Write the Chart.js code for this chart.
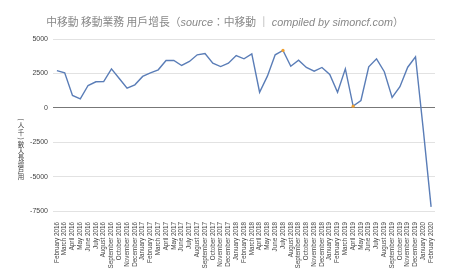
<!DOCTYPE html>
<html>
<head>
<meta charset="utf-8">
<script src="https://cdn.jsdelivr.net/npm/chart.js@4"></script>
<style>
  body { margin: 0; background: #fff; }
  #wrap { position: relative; width: 450px; height: 278px; }
  #title {
    position: absolute; top: 13px; left: 0; width: 450px; text-align: center;
    font-family: "Noto Sans CJK TC", "Liberation Sans", sans-serif; font-size: 10.8px; color: #888;
    white-space: nowrap;
  }
  #title i { font-family: "Liberation Sans", Arial, sans-serif; }
</style>
</head>
<body>
<div id="wrap">
  <canvas id="growth" width="450" height="278"></canvas>
  <div id="title">中移動 移動業務 用戶增長（<i>source</i>：中移動 ｜ <i>compiled by simoncf.com</i>）</div>
</div>
<script>
// months Feb 2016 .. Feb 2020
var months = [
  "February 2016", "March 2016", "April 2016", "May 2016", "June 2016", "July 2016", "August 2016",
  "September 2016", "October 2016", "November 2016", "December 2016",
  "January 2017", "February 2017", "March 2017", "April 2017", "May 2017", "June 2017", "July 2017",
  "August 2017", "September 2017", "October 2017", "November 2017", "December 2017",
  "January 2018", "February 2018", "March 2018", "April 2018", "May 2018", "June 2018", "July 2018",
  "August 2018", "September 2018", "October 2018", "November 2018", "December 2018",
  "January 2019", "February 2019", "March 2019", "April 2019", "May 2019", "June 2019", "July 2019",
  "August 2019", "September 2019", "October 2019", "November 2019", "December 2019",
  "January 2020", "February 2020"
];

// 用戶增長 (千人)
var userGrowth = [
  2700, 2550, 900, 650, 1620, 1890, 1910, 2830, 2130, 1420, 1670,
  2280, 2540, 2760, 3440, 3440, 3075, 3370, 3850, 3950, 3240, 3000, 3240,
  3800, 3560, 3920, 1130, 2300, 3850, 4170, 3020, 3460, 2930, 2660, 2930,
  2420, 1130, 2830, 120, 530, 2980, 3560, 2620, 750, 1530, 2950, 3710,
  -1600, -7200
];

var yTicks = [5000, 2500, 0, -2500, -5000, -7500];
var yAxisTitle = ["用", "戶", "增", "長", "人", "數", "(", "千", "人", ")"];

// the two highlighted points (orange)
var marked = ["July 2018", "April 2019"];

var tickFont = { family: "Liberation Sans", size: 7 };

// stacked upright y-axis title, read from bottom to top
var yTitlePlugin = {
    id: 'yTitle',
    afterDraw: function (chart) {
        var c = chart.ctx;
        c.save();
        c.fillStyle = '#444';
        c.font = '6.5px "Noto Sans CJK TC"';
        c.textAlign = 'center';
        c.textBaseline = 'middle';
        var y = 177;
        yAxisTitle.forEach(function (ch) {
            if (ch === '(' || ch === ')') {
                c.save();
                c.translate(21, y);
                c.rotate(-Math.PI / 2);
                c.fillText(ch, 0, 0);
                c.restore();
            } else {
                c.fillText(ch, 21, y);
            }
            y -= 6.4;
        });
        c.restore();
    }
};

var ctx = document.getElementById("growth");
var myChart = new Chart(ctx, {
    type: 'line',
    data: {
        labels: months,
        datasets: [{
            label: '用戶增長',
            data: userGrowth,
            borderColor: '#5a7db7',
            borderWidth: 1.4,
            tension: 0,
            fill: false,
            pointRadius: months.map(function (m) { return marked.indexOf(m) >= 0 ? 1.6 : 0; }),
            pointBackgroundColor: '#f0a030',
            pointBorderWidth: 0
        }]
    },
    options: {
        responsive: false,
        animation: false,
        layout: { padding: { top: 39, right: 15, left: 0, bottom: 0 } },
        plugins: {
            legend: { display: false },
            tooltip: { enabled: false }
        },
        scales: {
            x: {
                offset: true,
                grid: { display: false },
                border: { display: false },
                ticks: {
                    autoSkip: false,
                    minRotation: 90,
                    maxRotation: 90,
                    padding: 3,
                    color: '#444',
                    font: { family: "Liberation Sans", size: 6.3 }
                },
                afterFit: function (s) { s.height = 67; }
            },
            y: {
                min: -7500,
                max: 5000,
                afterBuildTicks: function (s) {
                    s.ticks = yTicks.map(function (v) { return { value: v }; });
                },
                grid: {
                    drawTicks: false,
                    color: function (c) { return c.tick && c.tick.value === 0 ? '#777' : '#e2e2e2'; },
                    lineWidth: 1
                },
                border: { display: false },
                ticks: {
                    padding: 5,
                    color: '#444',
                    font: tickFont,
                    callback: function (v) { return String(v); }
                },
                afterFit: function (s) { s.width = 53; }
            }
        }
    },
    plugins: [yTitlePlugin]
});
</script>
</body>
</html>
